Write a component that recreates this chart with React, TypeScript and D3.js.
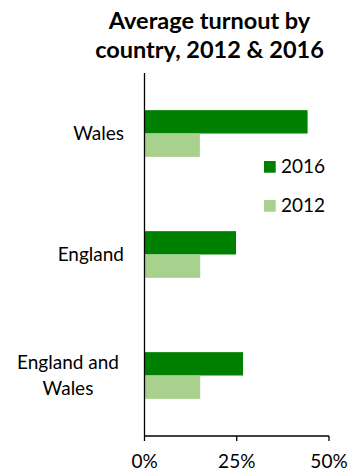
import React from "react";
import * as d3 from "d3";

const categories = ["Wales", "England", "England and Wales"];
const categoryLines = [["Wales"], ["England"], ["England and", "Wales"]];
const seriesNames = ["2016", "2012"];
const values2016 = [0.442, 0.248, 0.267];
const values2012 = [0.15, 0.151, 0.151];
const xTicks = [0, 0.25, 0.5];
const titleLines = ["Average turnout by", "country, 2012 & 2016"];
const colors = ["#008000", "#a9d18e"];

const W = 363;
const H = 471;
const FONT = "Lato, 'Open Sans', sans-serif";

export default function App() {
  const x = d3.scaleLinear().domain([0, 0.5]).range([144.5, 329]);
  const y0 = d3
    .scaleBand<string>()
    .domain(categories)
    .range([73, 436])
    .paddingInner(0.614)
    .paddingOuter(0.307);
  const y1 = d3
    .scaleBand<string>()
    .domain(seriesNames)
    .range([0, y0.bandwidth()]);
  const seriesValues = [values2016, values2012];
  const axisY = 436;

  return (
    <svg
      width={W}
      height={H}
      style={{ position: "absolute", left: 0, top: 0, background: "#fff" }}
      fontFamily={FONT}
    >
      <rect x={0} y={0} width={W} height={H} fill="#fff" />
      {titleLines.map((t, i) => (
        <text
          key={t}
          x={209.5}
          y={29 + i * 29}
          textAnchor="middle"
          fontWeight="bold"
          fontSize={23.5}
          fill="#000"
        >
          {t}
        </text>
      ))}

      {categories.map((c, ci) =>
        seriesNames.map((s, si) => (
          <rect
            key={c + s}
            x={x(0)}
            y={(y0(c) as number) + (y1(s) as number)}
            width={x(seriesValues[si][ci]) - x(0)}
            height={y1.bandwidth()}
            fill={colors[si]}
          />
        ))
      )}

      {/* axes */}
      <line x1={x(0)} x2={x(0)} y1={73} y2={axisY} stroke="#000" strokeWidth={1.3} />
      <line x1={x(0)} x2={x(0.5)} y1={axisY} y2={axisY} stroke="#000" strokeWidth={1.3} />
      {xTicks.map((t) => (
        <g key={t}>
          <line x1={x(t)} x2={x(t)} y1={axisY} y2={axisY + 5} stroke="#000" strokeWidth={1.3} />
          <text x={x(t)} y={467.5} textAnchor="middle" fontSize={19} fill="#000">
            {d3.format(".0%")(t)}
          </text>
        </g>
      ))}

      {categories.map((c, ci) => {
        const lines = categoryLines[ci];
        const cy = (y0(c) as number) + y0.bandwidth() / 2;
        const lh = 26;
        const multi = lines.length > 1;
        return (
          <text
            key={c}
            textAnchor={multi ? "middle" : "end"}
            fontSize={19}
            fill="#000"
          >
            {lines.map((l, li) => (
              <tspan
                key={l}
                x={multi ? 68 : 124}
                y={cy + 6.5 + (li - (lines.length - 1) / 2) * lh}
              >
                {l}
              </tspan>
            ))}
          </text>
        );
      })}

      {seriesNames.map((s, si) => (
        <g key={s}>
          <rect x={264} y={161 + si * 39} width={11.7} height={11.7} fill={colors[si]} />
          <text x={281} y={173 + si * 39} fontSize={19} fill="#000">
            {s}
          </text>
        </g>
      ))}
    </svg>
  );
}
